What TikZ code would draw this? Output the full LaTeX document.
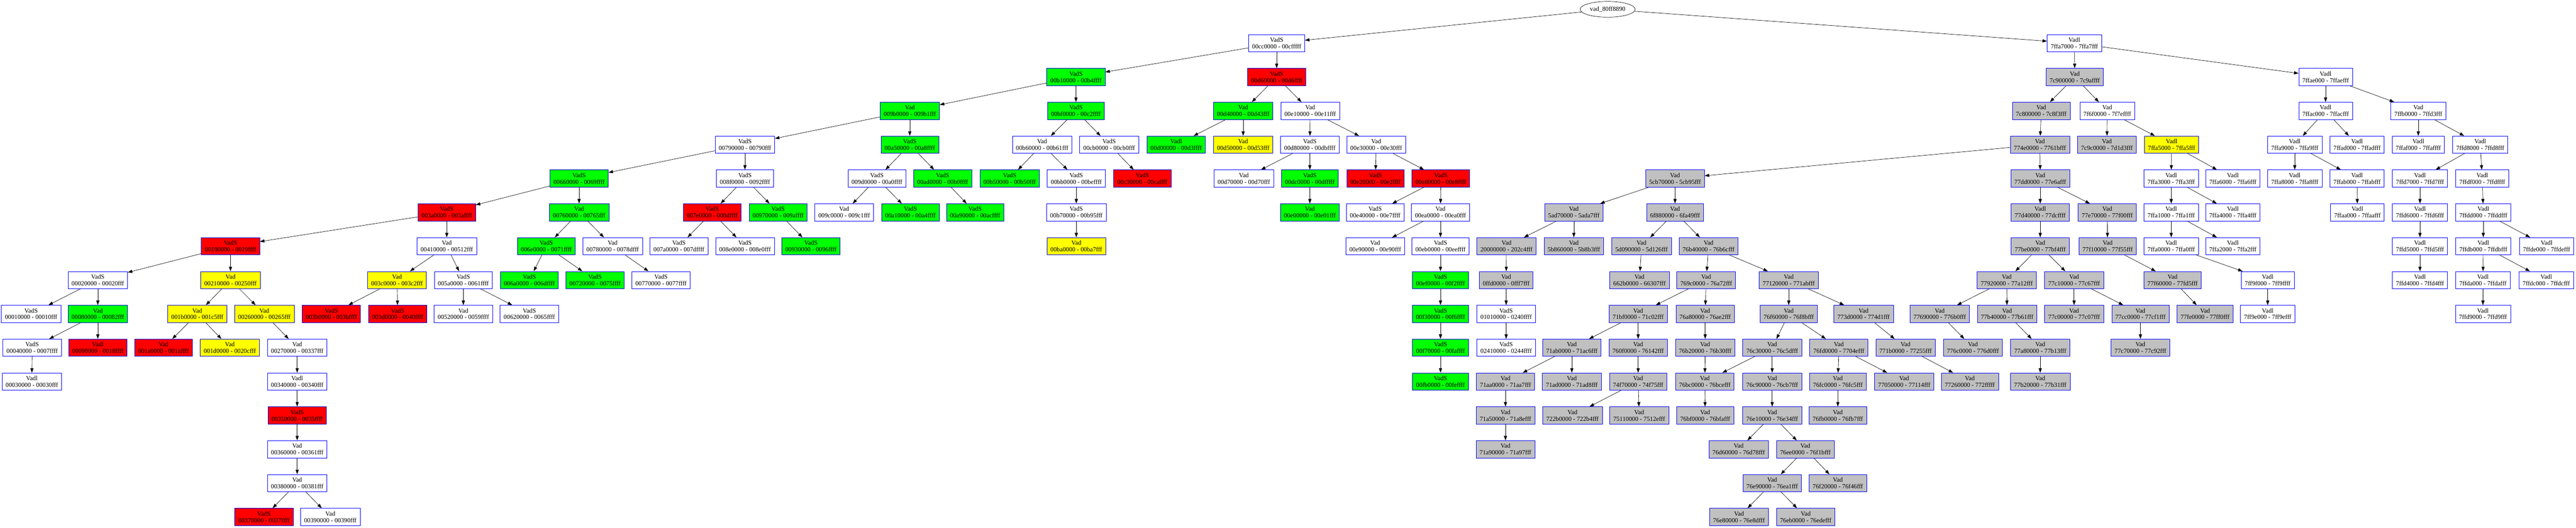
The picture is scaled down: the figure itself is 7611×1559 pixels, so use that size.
\documentclass[tikz,border=0pt]{standalone}
\usepackage{fontspec}
\setmainfont{Liberation Serif}
\usetikzlibrary{arrows.meta,shapes.geometric}
\definecolor{vgreen}{RGB}{0,255,0}
\definecolor{vred}{RGB}{255,0,0}
\definecolor{vyellow}{RGB}{255,255,0}
\definecolor{vgray}{RGB}{192,192,192}
\begin{document}
\begin{tikzpicture}[x=0.75pt, y=-0.75pt, every node/.style={font=\fontsize{14}{14.7}\selectfont},
  vad/.style={draw=blue, line width=0.75pt, align=center, minimum height=38.25pt, inner xsep=7.9pt, inner ysep=0pt},
  vadedge/.style={-{Triangle[length=10pt,width=7pt]}, line width=0.75pt}]
\useasboundingbox (0,0) rectangle (7611,1559);
\node[draw, ellipse, line width=0.75pt, minimum width=122pt, minimum height=35pt, inner sep=0pt] (root) at (4750,27.5) {vad\_80ff8890};
% level 1
\foreach \nm/\px/\kd/\rg/\cl in {n00cc0000/3772/VadS/00cc0000 - 00cfffff/white, n7ffa7000/6129/Vadl/7ffa7000 - 7ffa7fff/white}
  \node[vad, fill=\cl] (\nm) at (\px,127.5) {\kd\\\rg};
% level 2
\foreach \nm/\px/\kd/\rg/\cl in {n00b10000/3179/VadS/00b10000 - 00b4ffff/vgreen, n00d60000/3772/VadS/00d60000 - 00d6ffff/vred,
  n7c900000/6130/Vad/7c900000 - 7c9affff/vgray, n7ffae000/6871/Vadl/7ffae000 - 7ffaefff/white}
  \node[vad, fill=\cl] (\nm) at (\px,227.5) {\kd\\\rg};
% level 3
\foreach \nm/\px/\kd/\rg/\cl in {n009b0000/2688/Vad/009b0000 - 009b1fff/vgreen, n00bf0000/3179/VadS/00bf0000 - 00c2ffff/vgreen,
  n00d40000/3673/Vad/00d40000 - 00d43fff/vgreen, n00e10000/3871/Vad/00e10000 - 00e11fff/white,
  n7c800000/6031/Vad/7c800000 - 7c8f3fff/vgray, n7f6f0000/6226/Vad/7f6f0000 - 7f7effff/white,
  n7ffac000/6871/Vadl/7ffac000 - 7ffacfff/white, n7ffb0000/7145/Vad/7ffb0000 - 7ffd3fff/white}
  \node[vad, fill=\cl] (\nm) at (\px,327.5) {\kd\\\rg};
% level 4
\foreach \nm/\px/\kd/\rg/\cl in {n00790000/2201/VadS/00790000 - 00790fff/white, n00a50000/2688/VadS/00a50000 - 00a8ffff/vgreen,
  n00b60000/3079/Vad/00b60000 - 00b61fff/white, n00cb0000/3277/VadS/00cb0000 - 00cb0fff/white,
  n00d00000/3475/Vadl/00d00000 - 00d3ffff/vgreen, n00d50000/3673/Vad/00d50000 - 00d53fff/vyellow,
  n00d80000/3870/VadS/00d80000 - 00dbffff/white, n00e30000/4066/Vad/00e30000 - 00e30fff/white,
  n774e0000/6027/Vad/774e0000 - 7761bfff/vgray, n7c9c0000/6225/Vad/7c9c0000 - 7d1d3fff/vgray,
  n7ffa5000/6416/Vadl/7ffa5000 - 7ffa5fff/vyellow, n7ffa9000/6780/Vadl/7ffa9000 - 7ffa9fff/white,
  n7ffad000/6964/Vadl/7ffad000 - 7ffadfff/white, n7ffaf000/7145/Vadl/7ffaf000 - 7ffaffff/white,
  n7ffd8000/7328/Vadl/7ffd8000 - 7ffd8fff/white}
  \node[vad, fill=\cl] (\nm) at (\px,427.5) {\kd\\\rg};
% level 5
\foreach \nm/\px/\kd/\rg/\cl in {n00660000/1711/VadS/00660000 - 0069ffff/vgreen, n008f0000/2201/VadS/008f0000 - 0092ffff/white,
  n009d0000/2591/VadS/009d0000 - 00a0ffff/white, n00ad0000/2785/VadS/00ad0000 - 00b0ffff/vgreen,
  n00b50000/2983/VadS/00b50000 - 00b50fff/vgreen, n00bb0000/3180/VadS/00bb0000 - 00beffff/white,
  n00c30000/3375/VadS/00c30000 - 00caffff/vred, n00d70000/3675/Vad/00d70000 - 00d70fff/white,
  n00dc0000/3870/VadS/00dc0000 - 00dfffff/vgreen, n00e20000/4064/VadS/00e20000 - 00e2ffff/vred,
  n00e80000/4257/VadS/00e80000 - 00e8ffff/vred, n5cb70000/4949/Vad/5cb70000 - 5cb95fff/vgray,
  n77dd0000/6028/Vad/77dd0000 - 77e6afff/vgray, n7ffa3000/6415/Vadl/7ffa3000 - 7ffa3fff/white,
  n7ffa6000/6597/Vadl/7ffa6000 - 7ffa6fff/white, n7ffa8000/6780/Vadl/7ffa8000 - 7ffa8fff/white,
  n7ffab000/6964/Vadl/7ffab000 - 7ffabfff/white, n7ffd7000/7150/Vadl/7ffd7000 - 7ffd7fff/white,
  n7ffdf000/7334/Vadl/7ffdf000 - 7ffdffff/white}
  \node[vad, fill=\cl] (\nm) at (\px,527.5) {\kd\\\rg};
% level 6
\foreach \nm/\px/\kd/\rg/\cl in {n003a0000/1320/VadS/003a0000 - 003affff/vred, n00760000/1711/Vad/00760000 - 00765fff/vgreen,
  n007e0000/2104/VadS/007e0000 - 008dffff/vred, n00970000/2299/VadS/00970000 - 009affff/vgreen,
  n009c0000/2494/Vad/009c0000 - 009c1fff/white, n00a10000/2690/VadS/00a10000 - 00a4ffff/vgreen,
  n00a90000/2881/VadS/00a90000 - 00acffff/vgreen, n00b70000/3180/VadS/00b70000 - 00b95fff/white,
  n00e00000/3870/Vad/00e00000 - 00e01fff/vgreen, n00e40000/4063/VadS/00e40000 - 00e7ffff/white,
  n00ea0000/4256/Vad/00ea0000 - 00ea0fff/white, n5ad70000/4650/Vad/5ad70000 - 5ada7fff/vgray,
  n6f880000/4949/Vad/6f880000 - 6fa49fff/vgray, n77d40000/6028/Vadl/77d40000 - 77dcffff/vgray,
  n77e70000/6226/Vad/77e70000 - 77f00fff/vgray, n7ffa1000/6415/Vadl/7ffa1000 - 7ffa1fff/white,
  n7ffa4000/6597/Vadl/7ffa4000 - 7ffa4fff/white, n7ffaa000/6965/Vadl/7ffaa000 - 7ffaafff/white,
  n7ffd6000/7150/Vadl/7ffd6000 - 7ffd6fff/white, n7ffdd000/7337/Vadl/7ffdd000 - 7ffddfff/white}
  \node[vad, fill=\cl] (\nm) at (\px,627.5) {\kd\\\rg};
% level 7
\foreach \nm/\px/\kd/\rg/\cl in {n00190000/681/VadS/00190000 - 0019ffff/vred, n00410000/1320/Vad/00410000 - 00512fff/white,
  n006e0000/1614/VadS/006e0000 - 0071ffff/vgreen, n00780000/1810/Vad/00780000 - 0078dfff/white,
  n007a0000/2006/VadS/007a0000 - 007dffff/white, n008e0000/2201/VadS/008e0000 - 008e0fff/white,
  n00930000/2396/VadS/00930000 - 0096ffff/vgreen, n00ba0000/3180/Vad/00ba0000 - 00ba7fff/vyellow,
  n00e90000/4063/Vad/00e90000 - 00e90fff/white, n00eb0000/4256/VadS/00eb0000 - 00eeffff/white,
  n20000000/4451/Vad/20000000 - 202c4fff/vgray, n5b860000/4650/Vad/5b860000 - 5b8b3fff/vgray,
  n5d090000/4850/Vad/5d090000 - 5d126fff/vgray, n76b40000/5048/Vad/76b40000 - 76b6cfff/vgray,
  n77be0000/6028/Vad/77be0000 - 77bf4fff/vgray, n77f10000/6227/Vad/77f10000 - 77f55fff/vgray,
  n7ffa0000/6415/Vadl/7ffa0000 - 7ffa0fff/white, n7ffa2000/6597/Vadl/7ffa2000 - 7ffa2fff/white,
  n7ffd5000/7150/Vadl/7ffd5000 - 7ffd5fff/white, n7ffdb000/7337/Vadl/7ffdb000 - 7ffdbfff/white,
  n7ffde000/7524/Vadl/7ffde000 - 7ffdefff/white}
  \node[vad, fill=\cl] (\nm) at (\px,727.5) {\kd\\\rg};
% level 8
\foreach \nm/\px/\kd/\rg/\cl in {n00020000/289/VadS/00020000 - 00020fff/white, n00210000/681/Vad/00210000 - 00250fff/vyellow,
  n003c0000/1173/Vad/003c0000 - 003c2fff/vyellow, n005a0000/1369/VadS/005a0000 - 0061ffff/white,
  n006a0000/1564/VadS/006a0000 - 006dffff/vgreen, n00720000/1758/VadS/00720000 - 0075ffff/vgreen,
  n00770000/1953/VadS/00770000 - 0077ffff/white, n00ef0000/4256/VadS/00ef0000 - 00f2ffff/vgreen,
  n0ffd0000/4450/Vad/0ffd0000 - 0fff7fff/vgray, n662b0000/4844/Vad/662b0000 - 66307fff/vgray,
  n769c0000/5041/Vad/769c0000 - 76a72fff/vgray, n77120000/5285/Vad/77120000 - 771abfff/vgray,
  n77920000/5929/Vad/77920000 - 77a12fff/vgray, n77c10000/6128/Vad/77c10000 - 77c67fff/vgray,
  n77f60000/6419/Vad/77f60000 - 77fd5fff/vgray, n7ff9f000/6700/Vadl/7ff9f000 - 7ff9ffff/white,
  n7ffd4000/7150/Vadl/7ffd4000 - 7ffd4fff/white, n7ffda000/7336/Vadl/7ffda000 - 7ffdafff/white,
  n7ffdc000/7523/Vadl/7ffdc000 - 7ffdcfff/white}
  \node[vad, fill=\cl] (\nm) at (\px,827.5) {\kd\\\rg};
% level 9
\foreach \nm/\px/\kd/\rg/\cl in {n00010000/92/VadS/00010000 - 00010fff/white, n00080000/289/Vad/00080000 - 00082fff/vgreen,
  n001b0000/583/Vad/001b0000 - 001c5fff/vyellow, n00260000/781/Vad/00260000 - 00265fff/vyellow,
  n003b0000/979/VadS/003b0000 - 003bffff/vred, n003d0000/1175/VadS/003d0000 - 0040ffff/vred,
  n00520000/1369/Vad/00520000 - 0059ffff/white, n00620000/1564/VadS/00620000 - 0065ffff/white,
  n00f30000/4256/VadS/00f30000 - 00f6ffff/vgreen, n01010000/4450/VadS/01010000 - 0240ffff/white,
  n71bf0000/4840/Vad/71bf0000 - 71c02fff/vgray, n76a80000/5038/Vad/76a80000 - 76ae2fff/vgray,
  n76f60000/5285/Vad/76f60000 - 76f8bfff/vgray, n773d0000/5506/Vad/773d0000 - 774d1fff/vgray,
  n77690000/5731/Vad/77690000 - 776b0fff/vgray, n77b40000/5930/Vad/77b40000 - 77b61fff/vgray,
  n77c00000/6128/Vad/77c00000 - 77c07fff/vgray, n77cc0000/6324/Vad/77cc0000 - 77cf1fff/vgray,
  n77fe0000/6515/Vad/77fe0000 - 77ff0fff/vgray, n7ff9e000/6700/Vadl/7ff9e000 - 7ff9efff/white,
  n7ffd9000/7336/Vadl/7ffd9000 - 7ffd9fff/white}
  \node[vad, fill=\cl] (\nm) at (\px,927.5) {\kd\\\rg};
% level 10
\foreach \nm/\px/\kd/\rg/\cl in {n00040000/95/VadS/00040000 - 0007ffff/white, n00090000/289/Vadl/00090000 - 0018ffff/vred,
  n001a0000/483/Vad/001a0000 - 001affff/vred, n001d0000/679/Vad/001d0000 - 0020cfff/vyellow,
  n00270000/878/Vad/00270000 - 00337fff/white, n00f70000/4256/VadS/00f70000 - 00faffff/vgreen,
  n02410000/4450/VadS/02410000 - 0244ffff/white, n71ab0000/4644/Vad/71ab0000 - 71ac6fff/vgray,
  n760f0000/4840/Vad/760f0000 - 76142fff/vgray, n76b20000/5038/Vad/76b20000 - 76b30fff/vgray,
  n76c30000/5236/Vad/76c30000 - 76c5dfff/vgray, n76fd0000/5433/Vad/76fd0000 - 7704efff/vgray,
  n771b0000/5630/Vad/771b0000 - 77255fff/vgray, n776c0000/5829/Vad/776c0000 - 776d0fff/vgray,
  n77a80000/6028/Vad/77a80000 - 77b13fff/vgray, n77c70000/6324/Vad/77c70000 - 77c92fff/vgray}
  \node[vad, fill=\cl] (\nm) at (\px,1027.5) {\kd\\\rg};
% level 11
\foreach \nm/\px/\kd/\rg/\cl in {n00030000/94/Vadl/00030000 - 00030fff/white, n00340000/878/Vadl/00340000 - 00340fff/white,
  n00fb0000/4256/VadS/00fb0000 - 00feffff/vgreen, n71aa0000/4448/Vad/71aa0000 - 71aa7fff/vgray,
  n71ad0000/4644/Vad/71ad0000 - 71ad8fff/vgray, n74f70000/4840/Vad/74f70000 - 74f75fff/vgray,
  n76bc0000/5037/Vad/76bc0000 - 76bcefff/vgray, n76c90000/5236/Vad/76c90000 - 76cb7fff/vgray,
  n76fc0000/5430/Vad/76fc0000 - 76fc5fff/vgray, n77050000/5626/Vad/77050000 - 77114fff/vgray,
  n77260000/5820/Vad/77260000 - 772fffff/vgray, n77b20000/6028/Vad/77b20000 - 77b31fff/vgray}
  \node[vad, fill=\cl] (\nm) at (\px,1127.5) {\kd\\\rg};
% level 12
\foreach \nm/\px/\kd/\rg/\cl in {n00350000/878/VadS/00350000 - 0035ffff/vred, n71a50000/4448/Vad/71a50000 - 71a8efff/vgray,
  n722b0000/4646/Vad/722b0000 - 722b4fff/vgray, n75110000/4843/Vad/75110000 - 7512efff/vgray,
  n76bf0000/5038/Vad/76bf0000 - 76bfafff/vgray, n76e10000/5236/Vad/76e10000 - 76e34fff/vgray,
  n76fb0000/5430/Vad/76fb0000 - 76fb7fff/vgray}
  \node[vad, fill=\cl] (\nm) at (\px,1227.5) {\kd\\\rg};
% level 13
\foreach \nm/\px/\kd/\rg/\cl in {n00360000/878/Vad/00360000 - 00361fff/white, n71a90000/4448/Vad/71a90000 - 71a97fff/vgray,
  n76d60000/5137/Vad/76d60000 - 76d78fff/vgray, n76ee0000/5334/Vad/76ee0000 - 76f1bfff/vgray}
  \node[vad, fill=\cl] (\nm) at (\px,1327.5) {\kd\\\rg};
% level 14
\foreach \nm/\px/\kd/\rg/\cl in {n00380000/878/Vad/00380000 - 00381fff/white, n76e90000/5236/Vad/76e90000 - 76ea1fff/vgray,
  n76f20000/5430/Vad/76f20000 - 76f46fff/vgray}
  \node[vad, fill=\cl] (\nm) at (\px,1427.5) {\kd\\\rg};
% level 15
\foreach \nm/\px/\kd/\rg/\cl in {n00370000/780/VadS/00370000 - 0037ffff/vred, n00390000/976/Vad/00390000 - 00390fff/white,
  n76e80000/5138/Vad/76e80000 - 76e8dfff/vgray, n76eb0000/5335/Vad/76eb0000 - 76edefff/vgray}
  \node[vad, fill=\cl] (\nm) at (\px,1527.5) {\kd\\\rg};
% edges
\foreach \a/\b in {root/n00cc0000, root/n7ffa7000,
  n00cc0000/n00b10000, n00cc0000/n00d60000, n00b10000/n009b0000, n00b10000/n00bf0000,
  n009b0000/n00790000, n009b0000/n00a50000, n00790000/n00660000, n00790000/n008f0000,
  n00660000/n003a0000, n00660000/n00760000, n003a0000/n00190000, n003a0000/n00410000,
  n00190000/n00020000, n00190000/n00210000, n00020000/n00010000, n00020000/n00080000,
  n00080000/n00040000, n00080000/n00090000, n00040000/n00030000,
  n00210000/n001b0000, n00210000/n00260000, n001b0000/n001a0000, n001b0000/n001d0000,
  n00260000/n00270000, n00270000/n00340000, n00340000/n00350000, n00350000/n00360000,
  n00360000/n00380000, n00380000/n00370000, n00380000/n00390000,
  n00410000/n003c0000, n00410000/n005a0000, n003c0000/n003b0000, n003c0000/n003d0000,
  n005a0000/n00520000, n005a0000/n00620000, n00760000/n006e0000, n00760000/n00780000,
  n006e0000/n006a0000, n006e0000/n00720000, n00780000/n00770000,
  n008f0000/n007e0000, n008f0000/n00970000, n007e0000/n007a0000, n007e0000/n008e0000,
  n00970000/n00930000, n00a50000/n009d0000, n00a50000/n00ad0000,
  n009d0000/n009c0000, n009d0000/n00a10000, n00ad0000/n00a90000,
  n00bf0000/n00b60000, n00bf0000/n00cb0000, n00b60000/n00b50000, n00b60000/n00bb0000,
  n00bb0000/n00b70000, n00b70000/n00ba0000, n00cb0000/n00c30000,
  n00d60000/n00d40000, n00d60000/n00e10000, n00d40000/n00d00000, n00d40000/n00d50000,
  n00e10000/n00d80000, n00e10000/n00e30000, n00d80000/n00d70000, n00d80000/n00dc0000,
  n00dc0000/n00e00000, n00e30000/n00e20000, n00e30000/n00e80000,
  n00e80000/n00e40000, n00e80000/n00ea0000, n00ea0000/n00e90000, n00ea0000/n00eb0000,
  n00eb0000/n00ef0000, n00ef0000/n00f30000, n00f30000/n00f70000, n00f70000/n00fb0000}
  \draw[vadedge] (\a) -- (\b);
\foreach \a/\b in {n7ffa7000/n7c900000, n7ffa7000/n7ffae000,
  n7c900000/n7c800000, n7c900000/n7f6f0000, n7c800000/n774e0000,
  n774e0000/n5cb70000, n774e0000/n77dd0000, n5cb70000/n5ad70000, n5cb70000/n6f880000,
  n5ad70000/n20000000, n5ad70000/n5b860000, n20000000/n0ffd0000, n0ffd0000/n01010000,
  n01010000/n02410000, n6f880000/n5d090000, n6f880000/n76b40000, n5d090000/n662b0000,
  n76b40000/n769c0000, n76b40000/n77120000, n769c0000/n71bf0000, n769c0000/n76a80000,
  n71bf0000/n71ab0000, n71bf0000/n760f0000, n71ab0000/n71aa0000, n71ab0000/n71ad0000,
  n71aa0000/n71a50000, n71a50000/n71a90000, n760f0000/n74f70000,
  n74f70000/n722b0000, n74f70000/n75110000, n76a80000/n76b20000, n76b20000/n76bc0000,
  n76bc0000/n76bf0000, n77120000/n76f60000, n77120000/n773d0000,
  n76f60000/n76c30000, n76f60000/n76fd0000, n76c30000/n76bc0000, n76c30000/n76c90000,
  n76c90000/n76e10000, n76e10000/n76d60000, n76e10000/n76ee0000,
  n76ee0000/n76e90000, n76ee0000/n76f20000, n76e90000/n76e80000, n76e90000/n76eb0000,
  n76fd0000/n76fc0000, n76fd0000/n77050000, n76fc0000/n76fb0000,
  n773d0000/n771b0000, n771b0000/n77260000,
  n77dd0000/n77d40000, n77dd0000/n77e70000, n77d40000/n77be0000,
  n77be0000/n77920000, n77be0000/n77c10000, n77920000/n77690000, n77920000/n77b40000,
  n77690000/n776c0000, n77b40000/n77a80000, n77a80000/n77b20000,
  n77c10000/n77c00000, n77c10000/n77cc0000, n77cc0000/n77c70000,
  n77e70000/n77f10000, n77f10000/n77f60000, n77f60000/n77fe0000,
  n7f6f0000/n7c9c0000, n7f6f0000/n7ffa5000, n7ffa5000/n7ffa3000, n7ffa5000/n7ffa6000,
  n7ffa3000/n7ffa1000, n7ffa3000/n7ffa4000, n7ffa1000/n7ffa0000, n7ffa1000/n7ffa2000,
  n7ffa0000/n7ff9f000, n7ff9f000/n7ff9e000,
  n7ffae000/n7ffac000, n7ffae000/n7ffb0000, n7ffac000/n7ffa9000, n7ffac000/n7ffad000,
  n7ffa9000/n7ffa8000, n7ffa9000/n7ffab000, n7ffab000/n7ffaa000,
  n7ffb0000/n7ffaf000, n7ffb0000/n7ffd8000, n7ffd8000/n7ffd7000, n7ffd8000/n7ffdf000,
  n7ffd7000/n7ffd6000, n7ffd6000/n7ffd5000, n7ffd5000/n7ffd4000,
  n7ffdf000/n7ffdd000, n7ffdd000/n7ffdb000, n7ffdd000/n7ffde000,
  n7ffdb000/n7ffda000, n7ffdb000/n7ffdc000, n7ffda000/n7ffd9000}
  \draw[vadedge] (\a) -- (\b);
\end{tikzpicture}
\end{document}
